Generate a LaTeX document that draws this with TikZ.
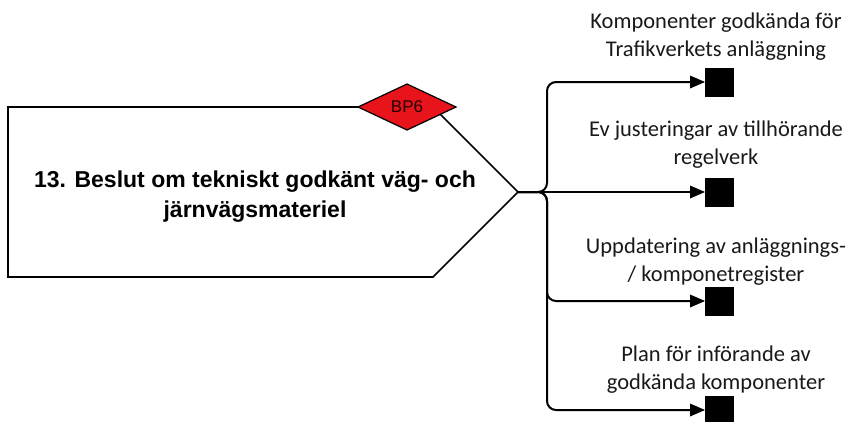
\documentclass[tikz,border=0pt]{standalone}
\usepackage{fontspec}
\setmainfont{Carlito}
\newfontfamily\arialfont{Liberation Sans}
\definecolor{bpred}{HTML}{E8141C}
\tikzset{
  outbox/.style={fill=black, draw=black, minimum width=28pt, minimum height=28pt, inner sep=0pt},
  outlabel/.style={align=center, font=\fontsize{22.5}{28}\selectfont, text=black!90, inner sep=0pt},
  flowline/.style={line width=2pt, rounded corners=9pt},
  arrowhead/.style={fill=black},
}
\begin{document}
\begin{tikzpicture}[x=1pt,y=-1pt]
\useasboundingbox (0,0) rectangle (856,421);
% main pentagon
\draw[line width=1.6pt, fill=white] (8,107) -- (433,107) -- (518,192) -- (433,277) -- (8,277) -- cycle;
\coordinate (tip) at (518,192);
\node[align=center, font=\arialfont\bfseries\fontsize{23}{30}\selectfont, inner sep=0pt] (title) at (255,197)
  {13. Beslut om tekniskt godkänt väg- och\\järnvägsmateriel};
% diamond BP6
\draw[line width=1.2pt, fill=bpred] (358,107) -- (407,84) -- (456,107) -- (407,130) -- cycle;
\node[font=\arialfont\fontsize{17}{19}\selectfont, text=black!85!red, inner sep=0pt] (bp) at (407,107) {BP6};
% output squares
\node[outbox] (s1) at (719,82) {};
\node[outbox] (s2) at (719,192) {};
\node[outbox] (s3) at (719,301) {};
\node[outbox, anchor=north] (s4) at (719,396) {};
\coordinate (e1) at (692,82);
\coordinate (e2) at (692,192);
\coordinate (e3) at (692,301);
\coordinate (e4) at (692,410);
% labels
\node[outlabel] (l1) at (716,37) {Komponenter godkända för\\Trafikverkets anläggning};
\node[outlabel] (l2) at (716,145) {Ev justeringar av tillhörande\\regelverk};
\node[outlabel] (l3) at (716,262) {Uppdatering av anläggnings-\\/ komponetregister};
\node[outlabel] (l4) at (716,370) {Plan för införande av\\godkända komponenter};
% connectors
\draw[flowline] (tip) -- (547,192) |- (e1);
\draw[flowline] (tip) -- (e2);
\draw[flowline] (tip) -- (547,192) |- (e3);
\draw[flowline] (tip) -- (547,192) |- (e4);
% arrowheads
\foreach \e in {e1,e2,e3,e4}{
  \fill[arrowhead] ([xshift=13pt]\e) -- ([xshift=-2pt,yshift=6.5pt]\e) -- ([xshift=-2pt,yshift=-6.5pt]\e) -- cycle;
}
\end{tikzpicture}
\end{document}
